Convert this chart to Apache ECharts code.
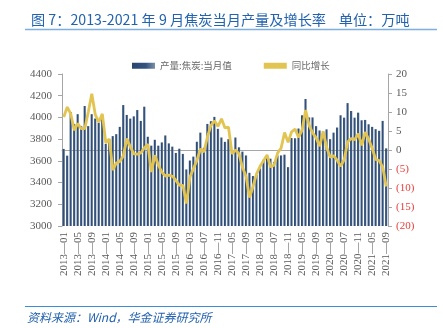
<!DOCTYPE html>
<html><head><meta charset="utf-8">
<script src="https://cdn.jsdelivr.net/npm/echarts/dist/echarts.min.js"></script>
<style>html,body{margin:0;padding:0;background:#fff}#c{width:443px;height:328px}</style>
</head><body><div id="c"></div>
<script>
const categories = [
'2013-01','2013-02','2013-03','2013-04','2013-05','2013-06','2013-07','2013-08','2013-09','2013-10','2013-11','2013-12',
'2014-01','2014-02','2014-03','2014-04','2014-05','2014-06','2014-07','2014-08','2014-09','2014-10','2014-11','2014-12',
'2015-01','2015-02','2015-03','2015-04','2015-05','2015-06','2015-07','2015-08','2015-09','2015-10','2015-11','2015-12',
'2016-03','2016-04','2016-05','2016-06','2016-07','2016-08','2016-09','2016-10','2016-11','2016-12',
'2017-03','2017-04','2017-05','2017-06','2017-07','2017-08','2017-09','2017-10','2017-11','2017-12',
'2018-03','2018-04','2018-05','2018-06','2018-07','2018-08','2018-09','2018-10','2018-11','2018-12',
'2019-03','2019-04','2019-05','2019-06','2019-07','2019-08','2019-09','2019-10','2019-11','2019-12',
'2020-03','2020-04','2020-05','2020-06','2020-07','2020-08','2020-09','2020-10','2020-11','2020-12',
'2021-03','2021-04','2021-05','2021-06','2021-07','2021-08','2021-09'];

const output = [
3710,3648,4050,3940,4030,3920,4105,3920,4030,3990,3950,4020,
3757,3800,3828,3846,3913,4114,4023,3989,4010,4068,3968,4099,
3822,3740,3794,3740,3770,3834,3761,3731,3673,3712,3664,3521,
3603,3639,3776,3860,3720,3940,3965,4005,3895,3815,
3775,3800,3700,3815,3725,3685,3650,3490,3460,3470,
3530,3610,3650,3620,3590,3650,3650,3657,3542,3810,
3808,3898,4020,4170,4000,4000,3920,3880,3810,3890,
3800,3860,3907,4020,3998,4132,4059,3998,4044,3974,
3977,3937,3913,3892,3877,3968,3715];

const yoy = [
8.7,11.3,9.5,5.2,7.0,5.6,5.6,10.0,14.8,9.3,7.3,9.5,
1.9,2.9,-5.3,-3.4,-3.0,-1.5,3.0,0.8,-1.0,-1.1,-0.8,0.6,
1.5,-5.8,-1.4,-4.0,-5.8,-6.9,-6.6,-6.9,-8.0,-9.3,-9.3,-14.1,
-7.1,-4.9,-2.7,0.3,-0.5,3.5,6.5,7.7,6.2,8.2,
5.8,6.0,-1.0,0.0,-1.0,-4.6,-6.9,-12.5,-9.6,-6.3,
-4.3,-2.8,-1.3,-4.5,-4.0,-0.8,0.5,4.6,2.0,4.8,
5.5,3.3,5.3,10.5,6.5,4.5,3.2,1.0,4.9,0.7,
-1.9,-1.5,-2.7,-4.3,-2.5,2.1,3.0,2.7,4.3,1.2,
4.7,2.8,0.4,-2.5,-2.8,-4.5,-9.6];

const leftTicks = {min:3000, max:4400, step:200};
const rightTicks = {min:-20, max:20, step:5};

const gold = '#E2C453';
const grey = '#595959';
const chart = echarts.init(document.getElementById('c'), null, {renderer:'canvas'});
chart.setOption({
  animation:false,
  title:{text:'图 7：2013-2021 年 9 月焦炭当月产量及增长率    单位：万吨', left:26, top:8,
    textStyle:{color:'#2262AE', fontSize:14.2, fontWeight:'normal', fontFamily:'Noto Sans CJK SC'}},
  graphic:[
    {type:'line', shape:{x1:25,y1:29.5,x2:437,y2:29.5}, style:{stroke:'#7DB0E0', lineWidth:1.5}},
    {type:'line', shape:{x1:25,y1:306.5,x2:437,y2:306.5}, style:{stroke:'#3C8DD6', lineWidth:1}},
    {type:'text', left:27, top:311, style:{text:'资料来源：Wind，华金证券研究所', fill:'#2262AE', font:'italic 12px "Noto Sans CJK SC"'}}
  ],
  legend:{left:127, top:56, itemWidth:23, itemHeight:6, itemGap:32,
    textStyle:{color:'#666', fontSize:9.5, fontFamily:'Noto Sans CJK SC'},
    data:[{name:'产量:焦炭:当月值', icon:'rect'},{name:'同比增长', icon:'rect', itemStyle:{color:gold}}]},
  grid:{left:62, right:55, top:74, bottom:102},
  xAxis:{type:'category', data:categories, boundaryGap:true,
    axisLine:{lineStyle:{color:'#A6A6A6'}},
    axisTick:{interval:0, length:4, lineStyle:{color:'#A6A6A6'}},
    axisLabel:{interval:3, rotate:90, fontFamily:'Liberation Serif', fontSize:11, color:grey, margin:6,
      formatter:v=>v.replace('-','—')}},
  yAxis:[
    {type:'value', min:leftTicks.min, max:leftTicks.max, interval:leftTicks.step,
     axisLine:{show:true, lineStyle:{color:'#A6A6A6'}}, axisTick:{show:true, length:4, lineStyle:{color:'#A6A6A6'}},
     splitLine:{show:false},
     axisLabel:{fontFamily:'Liberation Serif', fontSize:11, color:grey, margin:10, formatter:v=>String(v)}},
    {type:'value', position:'right', min:rightTicks.min, max:rightTicks.max, interval:rightTicks.step,
     axisLine:{show:true, lineStyle:{color:'#A6A6A6'}}, axisTick:{show:true, length:4, lineStyle:{color:'#A6A6A6'}},
     splitLine:{show:false},
     axisLabel:{fontFamily:'Liberation Serif', fontSize:11, margin:8,
       formatter:v=>v<0?'('+(-v)+')':String(v),
       color:v=>Number(v)<0?'#E8403C':grey}}
  ],
  series:[
    {name:'产量:焦炭:当月值', type:'bar', data:output, barWidth:'64%',
     itemStyle:{color:new echarts.graphic.LinearGradient(0,0,1,0,[{offset:0,color:'#28466F'},{offset:0.6,color:'#34547E'},{offset:1,color:'#7D90A8'}])}},
    {name:'同比增长', type:'line', yAxisIndex:1, data:yoy, symbol:'none',
     lineStyle:{color:gold, width:2.8}, itemStyle:{color:gold}}
  ]
});
</script></body></html>
